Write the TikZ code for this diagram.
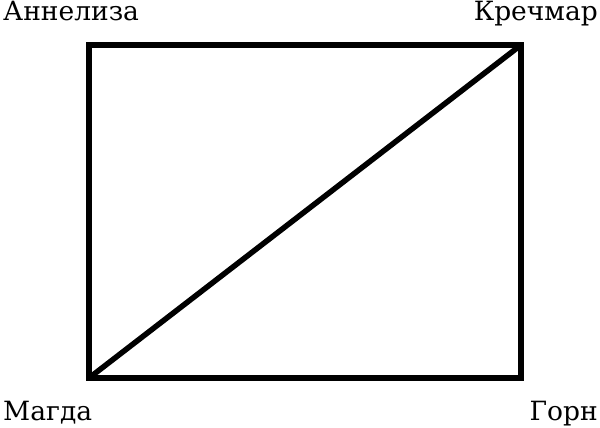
\documentclass[tikz,border=0pt]{standalone}
\usepackage{fontspec}
\setmainfont{DejaVu Serif}
\usetikzlibrary{positioning}
\newcommand{\namesize}{\fontsize{26.5}{30}\selectfont}
\tikzstyle{person} = [% a name at a corner of the frame
  inner sep=0pt,
  font=\namesize
  ]
\tikzstyle{frame} = [% the frame and its diagonal
  line width=5.5pt,
  line join=miter
  ]

\begin{document}
\begin{tikzpicture}[x=1pt, y=1pt]
\useasboundingbox (0,0) rectangle (600,428);

%%% Corners
\coordinate (magdacorner) at (89,50);
\coordinate (krechmarcorner) at (521,383);

%%% Names
\node[person, anchor=base west] (annelise) at (3,407) {Аннелиза};
\node[person, anchor=base east] (krechmar) at (598,407) {Кречмар};
\node[person, anchor=base west] (magda) at (3,7) {Магда};
\node[person, anchor=base east] (horn) at (598,7) {Горн};

%%%
\draw[frame] (magdacorner) rectangle (krechmarcorner);
\draw[frame] (magdacorner) -- (krechmarcorner);

\end{tikzpicture}
\end{document}
